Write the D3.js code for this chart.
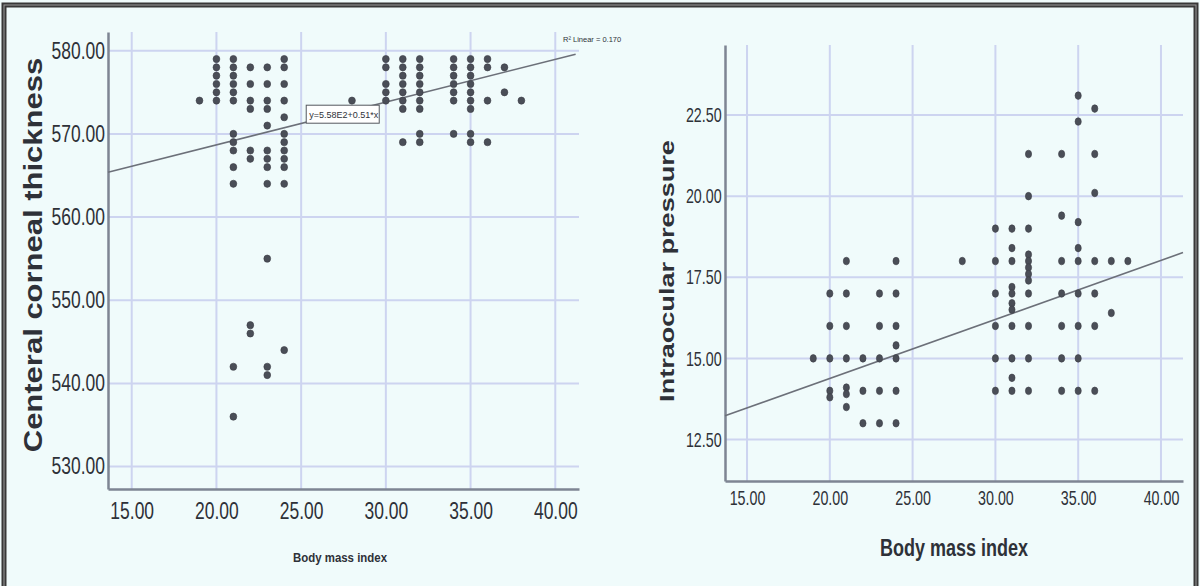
<!DOCTYPE html>
<html>
<head>
<meta charset="utf-8">
<script src="https://cdn.jsdelivr.net/npm/d3@7"></script>
<style>
body { margin: 0; background: #f0fbfb; }
text { font-family: "Liberation Sans", Arial, sans-serif; fill: #2e3138; }
</style>
</head>
<body>
<svg id="chart" width="1200" height="586"></svg>
<script>
// BMI columns shared by both panels
var leftBmi = [19, 20, 21, 22, 23, 24, 28, 30, 31, 32, 34, 35, 36, 37, 38];
// central corneal thickness values per BMI column
var cctValues = [
    [574],
    [574, 575, 576, 577, 578, 579],
    [574, 575, 576, 577, 578, 579, 570, 569, 568, 566, 564, 542, 536],
    [578, 576, 574, 573, 568, 567, 547, 546],
    [578, 576, 574, 573, 571, 568, 567, 566, 564, 555, 542, 541],
    [579, 578, 576, 574, 572, 570, 569, 568, 567, 566, 564, 544],
    [574],
    [579, 578, 576, 575, 574],
    [579, 578, 577, 576, 575, 574, 573, 569],
    [579, 578, 577, 576, 575, 574, 573, 570, 569],
    [579, 578, 577, 576, 575, 574, 570],
    [579, 578, 577, 576, 575, 574, 573, 570, 569],
    [579, 578, 574, 569],
    [578, 575],
    [574]
];

var rightBmi = [19, 20, 21, 22, 23, 24, 28, 30, 31, 32, 34, 35, 36, 37, 38];
// intraocular pressure values per BMI column
var iopValues = [
    [15],
    [17, 16, 15, 14, 13.8],
    [18, 17, 16, 15, 14.1, 13.9, 13.5],
    [15, 14, 13],
    [17, 16, 15, 14, 13],
    [18, 17, 16, 15.4, 15, 14, 13],
    [18],
    [19, 18, 17, 16, 15, 14],
    [19, 18.4, 18, 17.2, 17, 16.7, 16.5, 16, 15, 14.4, 14],
    [21.3, 20, 19, 18.2, 18, 17.8, 17.6, 17.4, 17, 16, 15, 14],
    [21.3, 19.4, 18, 17, 16, 15, 14],
    [23.1, 22.3, 19.2, 18.4, 18, 17, 16, 15, 14],
    [22.7, 21.3, 20.1, 18, 17, 16, 14],
    [18, 16.4],
    [18]
];

// tick labels
var bmiTicks = [15, 20, 25, 30, 35, 40];
var cctTicks = [530, 540, 550, 560, 570, 580];
var iopTicks = [12.5, 15, 17.5, 20, 22.5];

// linear fits
var cctFit = { intercept: 558.4, slope: 0.514, r2: "0.170", label: "y=5.58E2+0.51*x" };
var iopFit = { intercept: 10.74, slope: 0.182 };

var svg = d3.select("#chart");

// page frame
svg.append("rect")
    .attr("x", 4).attr("y", 5)
    .attr("width", 1192).attr("height", 640)
    .attr("fill", "#f0fbfb")
    .attr("stroke", "#383838")
    .attr("stroke-width", 5);
svg.append("rect")
    .attr("x", 4).attr("y", 5)
    .attr("width", 1192).attr("height", 640)
    .attr("fill", "none")
    .attr("stroke", "#9a9a9a")
    .attr("stroke-width", 1);

function toPoints(cols, vals) {
    var pts = [];
    cols.forEach(function (b, i) {
        vals[i].forEach(function (v) { pts.push({ x: b, y: v }); });
    });
    return pts;
}

function drawPanel(p) {
    var x = d3.scaleLinear().domain(p.xDomain).range([p.left, p.right]);
    var y = d3.scaleLinear().domain(p.yDomain).range([p.bottom, p.top]);
    var g = svg.append("g");

    // gridlines
    g.selectAll(".vg").data(bmiTicks).enter().append("line")
        .attr("x1", d => x(d)).attr("x2", d => x(d))
        .attr("y1", p.top).attr("y2", p.bottom)
        .attr("stroke", "#cdd4f0").attr("stroke-width", 2);
    g.selectAll(".hg").data(p.yTicks).enter().append("line")
        .attr("x1", p.left).attr("x2", p.right)
        .attr("y1", d => y(d)).attr("y2", d => y(d))
        .attr("stroke", "#cdd4f0").attr("stroke-width", 2);

    // axes
    var xa = g.append("g")
        .attr("transform", "translate(0," + p.bottom + ")")
        .call(d3.axisBottom(x).tickValues(bmiTicks).tickFormat(d3.format(".2f"))
            .tickSize(0).tickPadding(p.xPad));
    var ya = g.append("g")
        .attr("transform", "translate(" + p.left + ",0)")
        .call(d3.axisLeft(y).tickValues(p.yTicks).tickFormat(d3.format(".2f"))
            .tickSize(0).tickPadding(p.yPad));
    [xa, ya].forEach(function (a) {
        a.select(".domain").attr("stroke", "#7e8593").attr("stroke-width", 2.5);
        a.selectAll("text")
            .attr("font-family", "Liberation Sans, Arial, sans-serif")
            .attr("font-size", p.tickSize)
            .attr("fill", "#33363d");
    });
    xa.selectAll("text").attr("transform", "scale(" + p.squeeze + ",1)");
    ya.selectAll("text").attr("transform", "scale(" + p.squeeze + ",1)");

    // fit line
    var fx = p.xDomain;
    g.append("line")
        .attr("x1", x(fx[0])).attr("y1", y(p.fit.intercept + p.fit.slope * fx[0]))
        .attr("x2", x(p.fitEnd)).attr("y2", y(p.fit.intercept + p.fit.slope * p.fitEnd))
        .attr("stroke", "#6c7079").attr("stroke-width", 1.6);

    // points
    g.selectAll(".pt").data(toPoints(p.cols, p.vals)).enter().append("ellipse")
        .attr("cx", d => x(d.x)).attr("cy", d => y(d.y))
        .attr("rx", p.rx).attr("ry", p.ry)
        .attr("fill", "#4a4e57")
        .attr("stroke", "#3a3d44").attr("stroke-width", 0.6);

    // axis titles
    g.append("text")
        .attr("transform", "translate(" + p.xLabel[0] + "," + p.xLabel[1] + ") scale(" + p.xLabel[3] + ",1)")
        .attr("text-anchor", "middle")
        .attr("font-weight", "bold")
        .attr("font-size", p.xLabel[2])
        .attr("fill", "#26292f")
        .text("Body mass index");
    g.append("text")
        .attr("transform", "translate(" + p.yLabel[0] + "," + p.yLabel[1] + ") rotate(-90) scale(" + p.yLabel[3] + ",1)")
        .attr("text-anchor", "middle")
        .attr("font-weight", "bold")
        .attr("font-size", p.yLabel[2])
        .attr("fill", "#1f2126")
        .text(p.yTitle);

    return { g: g, x: x, y: y };
}

var left = drawPanel({
    left: 108, right: 579, top: 32, bottom: 489,
    xDomain: [13.6, 41.4], yDomain: [527.3, 582.25],
    yTicks: cctTicks, cols: leftBmi, vals: cctValues,
    fit: cctFit, fitEnd: 41.2,
    xPad: 14, yPad: 4, tickSize: 23, squeeze: 0.76,
    rx: 3.4, ry: 3.6,
    xLabel: [340, 562, 13, 0.88],
    yLabel: [42, 255, 25, 1.24],
    yTitle: "Centeral corneal thickness"
});

var right = drawPanel({
    left: 725, right: 1183, top: 45, bottom: 481,
    xDomain: [13.67, 41.33], yDomain: [11.22, 24.66],
    yTicks: iopTicks, cols: rightBmi, vals: iopValues,
    fit: iopFit, fitEnd: 41.33,
    xPad: 9, yPad: 5, tickSize: 21, squeeze: 0.68,
    rx: 3.1, ry: 3.8,
    xLabel: [954, 556, 24, 0.75],
    yLabel: [674, 271, 21, 1.29],
    yTitle: "Intraocular pressure"
});

// equation box on the left fit line
var bx = left.x(25.3), by = left.y(cctFit.intercept + cctFit.slope * 25.3);
left.g.append("rect")
    .attr("x", bx).attr("y", by - 17)
    .attr("width", 73).attr("height", 18)
    .attr("fill", "#ffffff").attr("stroke", "#55585f").attr("stroke-width", 1);
left.g.append("text")
    .attr("x", bx + 3).attr("y", by - 4.5)
    .attr("font-size", 9).attr("fill", "#33363d")
    .text(cctFit.label);

// R squared note
left.g.append("text")
    .attr("x", 563).attr("y", 42)
    .attr("font-size", 7.5).attr("fill", "#3a3d44")
    .text("R\u00b2 Linear = " + cctFit.r2);
</script>
</body>
</html>
